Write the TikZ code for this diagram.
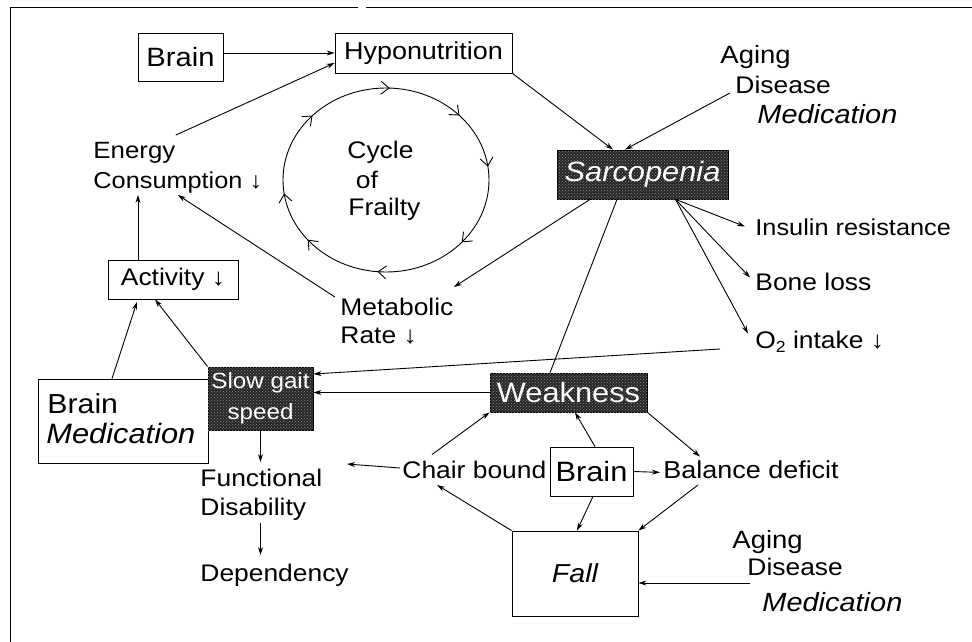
\documentclass[tikz,border=0pt]{standalone}
\usepackage{fontspec}
\setmainfont{Liberation Sans}[FakeStretch=1.1]
\usetikzlibrary{arrows.meta,decorations.markings,calc,patterns}
\newcommand{\fsz}[1]{\fontsize{#1pt}{31pt}\selectfont}
\begin{document}
\begin{tikzpicture}[x=1pt,y=-1pt,line width=0.9pt,
  txt/.style={inner sep=0pt,anchor=west,text height=18pt,text depth=6pt,font=\fsz{24}},
  box/.style={draw,line width=0.8pt,inner sep=0pt},
  dbox/.style={draw,line width=0.8pt,inner sep=0pt,fill=black!85,text=white,
    postaction={pattern=crosshatch dots,pattern color=black!45}},
  arr/.style={-{Stealth[length=8pt,width=5pt]}},
  cyc/.style={postaction={decorate},decoration={markings,
    mark=at position 0.022 with {\arrowreversed{Straight Barb[length=8pt,width=13pt]}},
    mark=at position 0.119 with {\arrowreversed{Straight Barb[length=8pt,width=13pt]}},
    mark=at position 0.244 with {\arrowreversed{Straight Barb[length=8pt,width=13pt]}},
    mark=at position 0.381 with {\arrowreversed{Straight Barb[length=8pt,width=13pt]}},
    mark=at position 0.522 with {\arrowreversed{Straight Barb[length=8pt,width=13pt]}},
    mark=at position 0.608 with {\arrowreversed{Straight Barb[length=8pt,width=13pt]}},
    mark=at position 0.736 with {\arrowreversed{Straight Barb[length=8pt,width=13pt]}},
    mark=at position 0.886 with {\arrowreversed{Straight Barb[length=8pt,width=13pt]}}}}
]
\useasboundingbox (0,0) rectangle (972,642);
% frame
\draw[line width=0.8pt] (972,7) -- (366,7);
\draw[line width=0.8pt] (358,7) -- (10,7) -- (10,642);

% boxes
\node[box,minimum width=85pt,minimum height=48pt,font=\fsz{26.5}] (brainT) at (180.5,57) {Brain};
\node[box,minimum width=177pt,minimum height=40pt,font=\fsz{24.5}] (hypo) at (423.5,53) {Hyponutrition};
\node[dbox,minimum width=171pt,minimum height=49pt,font=\fsz{28}\itshape] (sarc) at (642.5,174.5) {Sarcopenia};
\node[box,minimum width=130pt,minimum height=39pt,font=\fsz{24}] (act) at (173,279.5) {Activity ↓};
\node[box,minimum width=170pt,minimum height=84pt] (bm) at (123,421) {};
\node[txt,font=\fsz{27.5}] (bmB) at (47,407.5) {Brain};
\node[txt,font=\fsz{28}\itshape] (bmM) at (46,437.5) {Medication};
\node[dbox,minimum width=105pt,minimum height=63pt,align=center,font=\fsz{22}] (slow) at (260.5,398.5) {Slow gait\\speed};
\node[dbox,minimum width=157pt,minimum height=39pt,font=\fsz{28}] (weak) at (568.5,392.5) {Weakness};
\node[box,minimum width=83pt,minimum height=49pt,font=\fsz{28}] (brainC) at (591.5,471.5) {Brain};
\node[box,minimum width=126pt,minimum height=85pt,font=\fsz{26}\itshape] (fall) at (575,573.5) {Fall};

% text
\node[txt,font=\fsz{23.5}] (en1) at (93,152.5) {Energy};
\node[txt,font=\fsz{23}] (cons) at (93,182.5) {Consumption ↓};
\node[txt] (cyc1) at (347,152.5) {Cycle};
\node[txt,anchor=center] (cyc2) at (367,182.5) {of};
\node[txt] (cyc3) at (348,209.5) {Frailty};
\node[txt] (met1) at (340,309.5) {Metabolic};
\node[txt] (met2) at (340,337.5) {Rate ↓};
\node[txt,font=\fsz{25}] (ag1) at (720,57.5) {Aging};
\node[txt] (dis1) at (735,87.5) {Disease};
\node[txt,font=\fsz{26.3}\itshape] (med1) at (757,117.5) {Medication};
\node[txt,font=\fsz{23}] (ins) at (755,229.5) {Insulin resistance};
\node[txt] (bone) at (755,284.5) {Bone loss};
\node[txt] (o2) at (755,342.5) {O\raisebox{-0.3ex}{\fsz{16}2} intake ↓};
\node[txt] (func) at (200,480.5) {Functional};
\node[txt] (disab) at (200,509.5) {Disability};
\node[txt] (dep) at (200,575.5) {Dependency};
\node[txt] (chair) at (402,472.5) {Chair bound};
\node[txt,font=\fsz{24.5}] (bal) at (663,472.5) {Balance deficit};
\node[txt,font=\fsz{25}] (ag2) at (732,542.5) {Aging};
\node[txt] (dis2) at (747,569.5) {Disease};
\node[txt,font=\fsz{26.3}\itshape] (med2) at (762,605.5) {Medication};

% cycle
\draw[cyc] (386,180) ellipse [x radius=103pt,y radius=92pt];

% connectors
\draw[arr] (brainT.east |- hypo.west) -- (hypo.west);
\draw[arr] ([yshift=5pt]en1.north east) -- ([yshift=-10pt]hypo.west);
\draw[arr] (hypo.south east) -- ([xshift=-29.5pt]sarc.north);
\draw[arr] ([xshift=-5pt,yshift=7pt]dis1.south west) -- ([xshift=-17.5pt]sarc.north);
\coordinate (sr) at ([xshift=33pt]sarc.south);
\draw[arr] (sr) -- ([xshift=-10pt,yshift=3pt]ins.west);
\draw[arr] (sr) -- ([xshift=-5pt,yshift=7pt]bone.west);
\draw[arr] (sr) -- ([xshift=-7pt,yshift=9pt]o2.west);
\draw[arr] ([xshift=-52.5pt]sarc.south) -- ([yshift=10pt]met1.north east);
\draw ([xshift=-25.5pt]sarc.south) -- ([xshift=-18.5pt]weak.north);
\draw[arr] ([xshift=-5pt]met1.north west) -- (cons.south);
\coordinate (actTop) at ([xshift=-35pt]act.north);
\draw[arr] (actTop) -- (actTop |- cons.south);
\draw[arr] ([xshift=-11pt]bm.north) -- ([xshift=-36pt,yshift=-2.5pt]act.south);
\draw[arr] (slow.north west) -- ([xshift=-18pt]act.south);
\draw[arr] ([xshift=-35pt,yshift=-6.5pt]o2.west) -- ([yshift=24.5pt]slow.east);
\draw[arr] (weak.west) -- (weak.west -| slow.east);
\draw[arr,shorten >=6pt] (slow.south) -- (slow.south |- func.north);
\coordinate (fdTop) at (slow.south |- disab.south);
\draw[arr,shorten <=1.5pt,shorten >=8pt] (fdTop) -- (fdTop |- dep.north);
\coordinate (cbEnd) at (347,464);
\draw[arr] ([xshift=-2pt,yshift=4.5pt]chair.west) -- (cbEnd);
\draw[arr] ([xshift=30pt,yshift=5.5pt]chair.north west) -- (weak.south west);
\draw[arr] ([xshift=3.5pt]brainC.north) -- ([xshift=6.5pt]weak.south);
\draw[arr,shorten >=3pt] (brainC.east) -- (bal.west);
\draw[arr] (weak.south east) -- ([xshift=37pt,yshift=3.5pt]bal.north west);
\draw[arr] ([xshift=1.5pt]brainC.south) -- ([xshift=2pt]fall.north);
\draw[arr] (fall.north west) -- ([xshift=35pt]chair.south west);
\draw[arr] ([xshift=35pt]bal.south west) -- (fall.north east);
\coordinate (fallIn) at ([yshift=-9.5pt]fall.east);
\coordinate (agS) at ([xshift=3pt]dis2.west);
\draw[arr] (agS |- fallIn) -- (fallIn);
\end{tikzpicture}
\end{document}
